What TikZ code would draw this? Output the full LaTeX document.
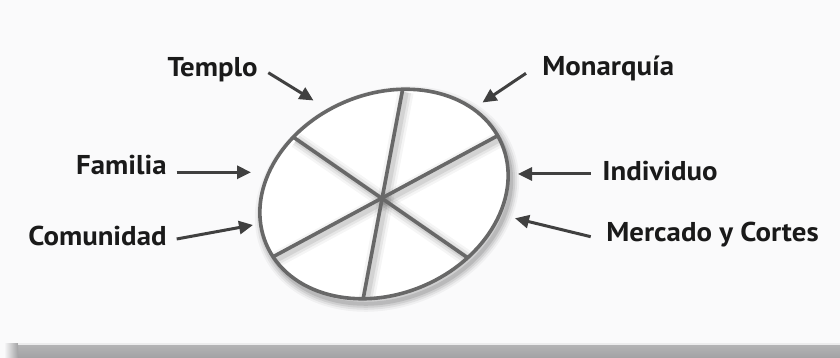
\documentclass[tikz,border=0pt]{standalone}
\usepackage{fontspec}
\setmainfont{PT Sans}
\newfontfamily\lblfont[FakeStretch=1.06]{PT Sans}
\usetikzlibrary{arrows.meta}
\definecolor{bgcol}{HTML}{FAFAFB}
\definecolor{barcol}{HTML}{A2A2A4}
\definecolor{rimcol}{HTML}{686868}
\definecolor{arrowcol}{HTML}{404040}
\definecolor{textcol}{HTML}{1A1A1A}
\tikzset{
  lbl/.style={inner sep=0pt, text=textcol, font=\lblfont\fontsize{13.6}{15}\selectfont\bfseries},
  pointer/.style={arrowcol, line width=1.5pt, -{Triangle[length=7pt,width=6.5pt]}},
  rim/.style={rimcol, line width=1.8pt},
}
\begin{document}
\begin{tikzpicture}[x=0.5pt, y=0.5pt]
  % canvas and grey strip at the bottom
  \fill[bgcol] (0,0) rectangle (840,358);
  \useasboundingbox (0,0) rectangle (840,358);
  \fill[top color=barcol!80, bottom color=barcol] (18,0) rectangle (840,14);
  \shade[left color=bgcol, right color=barcol] (4,0) rectangle (18,14);
  \draw[white!80!barcol, line width=0.6pt] (18,14) -- (840,14);
  % soft shadow round the disc
  \begin{scope}[shift={(387,159)}, rotate=23]
    \foreach \w/\o in {16/0.04, 12/0.06, 8/0.08, 4/0.10}
      \draw[black, opacity=\o, line width=\w*0.5pt] (0,0) ellipse [x radius=128, y radius=100];
  \end{scope}
  % the disc and its six parts
  \begin{scope}[shift={(384,164)}, rotate=23]
    \fill[white] (0,0) ellipse [x radius=128, y radius=100];
    \begin{scope}
      \clip (0,0) ellipse [x radius=127, y radius=99];
      \foreach \s/\e in {63/242, 118.6/294, 5.3/188.3}
        \foreach \w/\o in {16/0.04, 11/0.06, 6/0.08}
          \draw[black, opacity=\o, line width=\w*0.5pt]
            ([shift={(1.6,-3.9)}]\s:128 and 100) -- ([shift={(1.6,-3.9)}]\e:128 and 100);
    \end{scope}
    \foreach \s/\e [count=\i] in {63/242, 118.6/294, 5.3/188.3} {
      \coordinate (spoke\i-a) at (\s:128 and 100);
      \coordinate (spoke\i-b) at (\e:128 and 100);
      \draw[rim] (spoke\i-a) -- (spoke\i-b);
    }
    \draw[rim] (0,0) ellipse [x radius=128, y radius=100];
  \end{scope}
  % labels
  \node[lbl, anchor=base east] (templo) at (258,281) {Templo};
  \node[lbl, anchor=base west] (monarquia) at (542,282) {Monarquía};
  \node[lbl, anchor=base east] (familia) at (167,183) {Familia};
  \node[lbl, anchor=base east] (comunidad) at (167,112) {Comunidad};
  \node[lbl, anchor=base west] (individuo) at (602,177) {Individuo};
  \node[lbl, anchor=base west] (mercado) at (606,116) {Mercado y Cortes};
  % arrow tips on the rim
  \coordinate (templo-tip) at (313.5,257.5);
  \coordinate (monarquia-tip) at (482.5,255.5);
  \coordinate (familia-tip) at (251,185.7);
  \coordinate (comunidad-tip) at (253,133);
  \coordinate (individuo-tip) at (518,184);
  \coordinate (mercado-tip) at (515,139.7);
  \draw[pointer] ([shift={(10.3,4.3)}]templo.base east) -- (templo-tip);
  \draw[pointer] ([shift={(-16,2.7)}]monarquia.base west) -- (monarquia-tip);
  \draw[pointer] ([shift={(9.7,2.7)}]familia.base east) -- (familia-tip);
  \draw[pointer] ([shift={(9.7,7)}]comunidad.base east) -- (comunidad-tip);
  \draw[pointer] ([shift={(-11.3,7)}]individuo.base west) -- (individuo-tip);
  \draw[pointer] ([shift={(-15.3,5.3)}]mercado.base west) -- (mercado-tip);
\end{tikzpicture}
\end{document}
